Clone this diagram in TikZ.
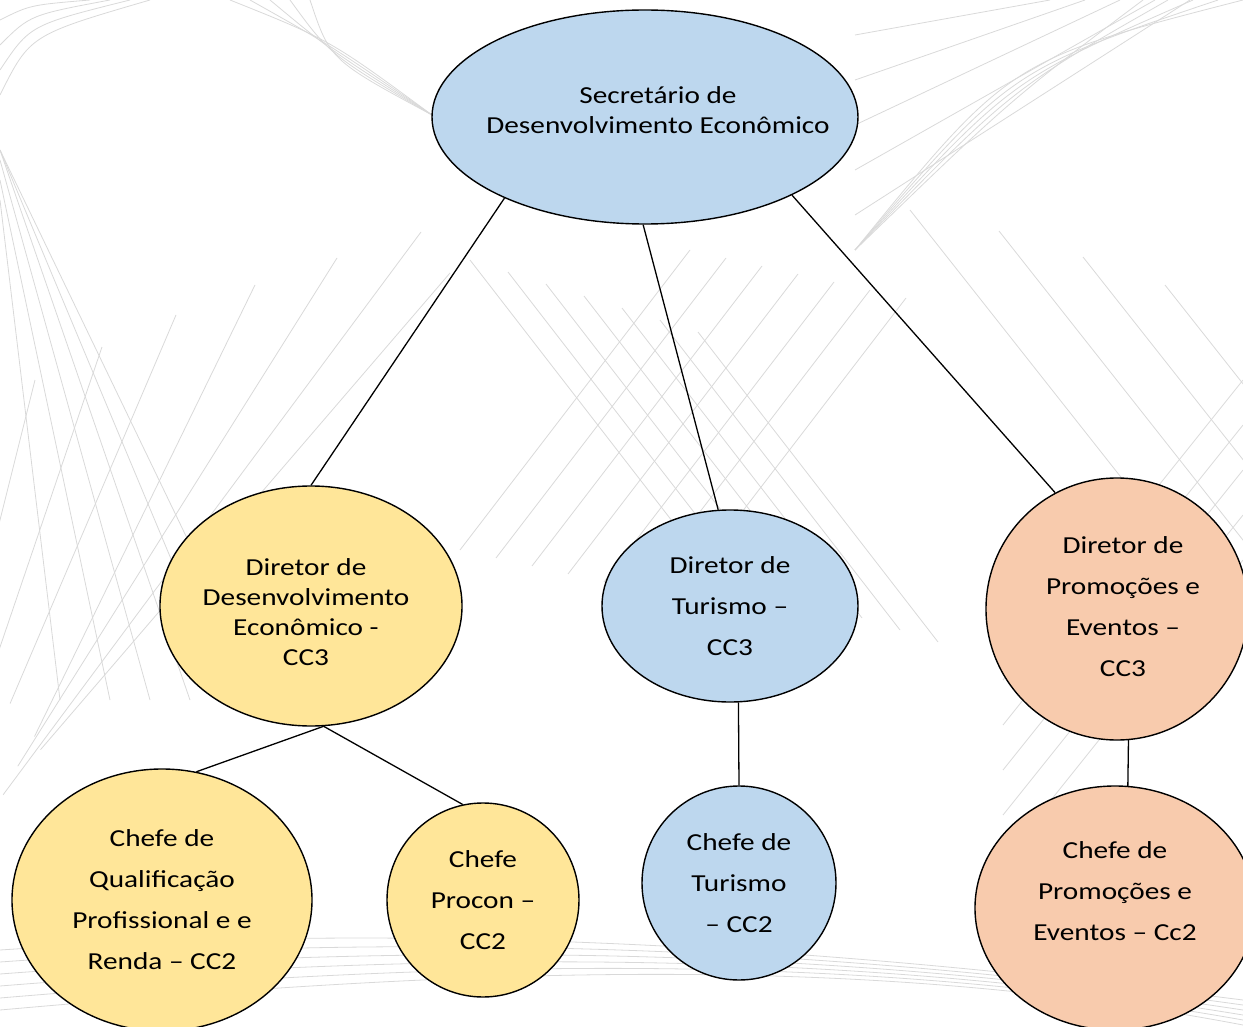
\documentclass[tikz,border=0pt]{standalone}
\usepackage{fontspec}
\setmainfont{Carlito}[FakeStretch=1.2]
\usetikzlibrary{shapes.geometric, calc}
\definecolor{orgblue}{RGB}{189,215,238}
\definecolor{orgyellow}{RGB}{255,230,153}
\definecolor{orgpeach}{RGB}{248,203,173}

\tikzset{
  cargo/.style={ellipse, draw=black, line width=1.4pt, inner sep=0pt, align=center,
    font=\fontsize{24.4}{30}\selectfont},
  cargowide/.style={cargo, font=\fontsize{24.4}{41}\selectfont},
  cargotext/.style={align=center, inner sep=0pt, font=\fontsize{24.4}{#1}\selectfont},
  bgline/.style={draw=black!15, line width=0.8pt},
  link/.style={draw=black, line width=1.3pt}
}

\begin{document}
\begin{tikzpicture}[x=1pt, y=-1pt]
\useasboundingbox (0,0) rectangle (1243,1027);

% background pattern
\foreach \e/\s in {60/200, 110/180, 150/160, 190/150, 230/150, 265/150}
  \draw[bgline] (0,\s) -- (\e,700);
\foreach \a/\b/\c in {35/380/5, 102/347/50, 176/315/97, 255/285/150, 337/258/185, 421/232/222, 450/273/255}
  \draw[bgline] (\a,\b) -- ($(\a,\b)!2.1!(\c,500)$);
\foreach \s in {0,...,6}
  \draw[bgline] (470+\s*38,260+\s*12) -- ++(240,310);
\foreach \s in {0,...,6}
  \draw[bgline] (690+\s*36,250+\s*8) -- ++(-230,300);
\foreach \a/\b in {910/210, 999/231, 1083/257, 1165/285}
  \draw[bgline] (\a,\b) -- ++(300,380);
\foreach \s in {0,...,4}
  \draw[bgline] (1243,380+\s*45) -- ++(-240,300);
\foreach \s in {0,...,4}
  \draw[bgline] (230+\s*20,0) .. controls (330,40+\s*5) .. (432,115);
\foreach \s in {0,...,4}
  \draw[bgline] (1243-\s*25,0) .. controls (1010,60+\s*10) .. (855,250);
\foreach \s in {0,...,4}
  \draw[bgline] (855,35+\s*45) -- (1050+\s*35,0);
\foreach \s in {0,...,3}
  \draw[bgline] (0,20+\s*25) .. controls (30,5+\s*10) .. (90+\s*20,0);
\foreach \s in {0,...,5}
  \draw[bgline] (0,950+\s*12) .. controls (450,920+\s*10) and (850,950) .. (1243,1000+\s*5);

% nodes
\node[cargo, fill=orgblue, minimum width=426pt, minimum height=214pt,
  label={[cargotext=30, xshift=13pt, yshift=7pt]center:Secretário de\\Desenvolvimento Econômico}] (sec) at (645,117) {};
\node[cargo, fill=orgyellow, minimum width=302pt, minimum height=240pt,
  label={[cargotext=30, xshift=-5pt, yshift=-6pt]center:Diretor de\\Desenvolvimento\\Econômico -\\CC3}] (dde) at (311,606) {};
\node[cargowide, fill=orgblue, minimum width=256pt, minimum height=192pt] (dtur) at (730,606)
  {Diretor de\\Turismo –\\CC3};
\node[cargo, fill=orgpeach, minimum width=262pt, minimum height=262pt,
  label={[cargotext=41, xshift=6pt, yshift=2pt]center:Diretor de\\Promoções e\\Eventos –\\CC3}] (dpro) at (1117,609) {};
\node[cargowide, fill=orgyellow, minimum width=300pt, minimum height=262pt] (cqual) at (162,900)
  {Chefe de\\Qualificação\\Profissional e e\\Renda – CC2};
\node[cargowide, fill=orgyellow, minimum width=192pt, minimum height=194pt] (cproc) at (483,900)
  {Chefe\\Procon –\\CC2};
\node[cargowide, fill=orgblue, minimum width=194pt, minimum height=194pt] (ctur) at (739,883)
  {Chefe de\\Turismo\\– CC2};
\node[cargo, fill=orgpeach, minimum width=280pt, minimum height=244pt,
  label={[cargotext=41, yshift=17pt]center:Chefe de\\Promoções e\\Eventos – Cc2}] (cpro) at (1115,908) {};

% links
\draw[link] (sec.210) -- (dde.north);
\draw[link] (sec.269) -- (dtur.97);
\draw[link] (sec.332) -- (dpro.118);
\draw[link] (dde.276) -- (cqual.75);
\draw[link] (dde.276) -- (cproc.102);
\draw[link] (dtur.275) -- (ctur.north);
\draw[link] (dpro.275) -- (cpro.84);
\end{tikzpicture}
\end{document}
